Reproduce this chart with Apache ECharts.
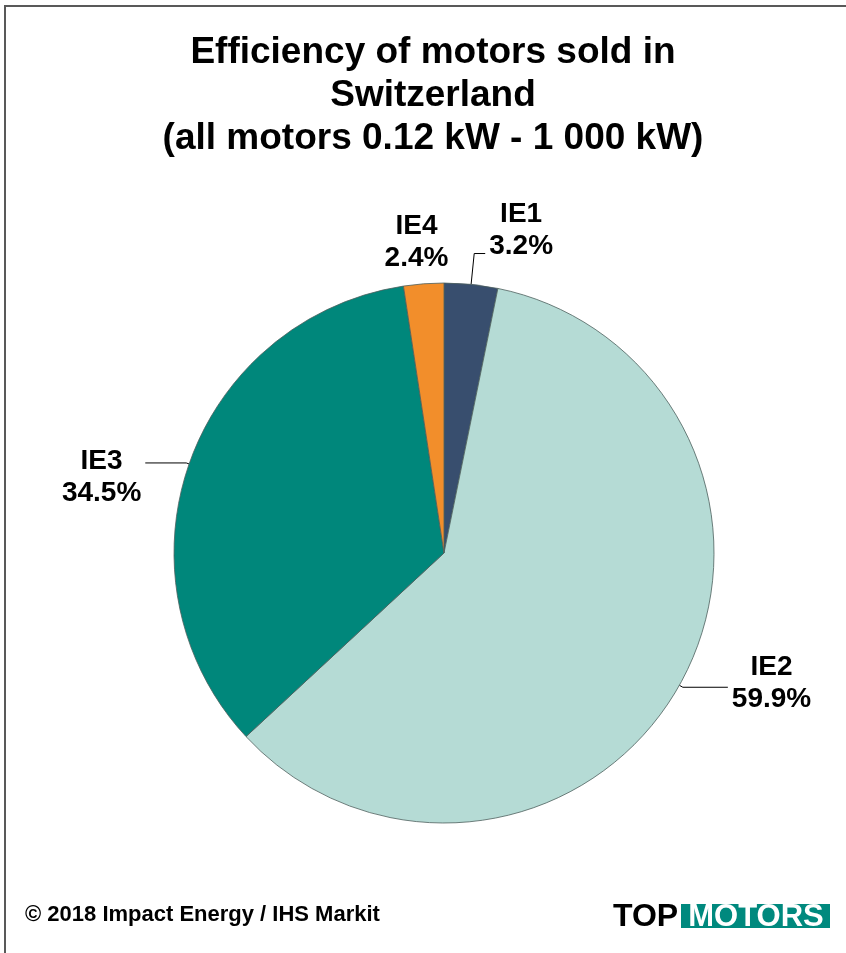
<!DOCTYPE html>
<html>
<head>
<meta charset="utf-8">
<script src="https://cdn.jsdelivr.net/npm/echarts@6/dist/echarts.min.js"></script>
<style>
  html, body { margin: 0; padding: 0; background: #fff; }
  #chart { width: 846px; height: 953px; }
</style>
</head>
<body>
<div id="chart"></div>
<script>
// motor efficiency classes and their share of sales (%)
const classes = ['IE1', 'IE2', 'IE3', 'IE4']
const shares = [3.2, 59.9, 34.5, 2.4]
const colors = ['#384e6e', '#b5dbd5', '#00877b', '#f28e2b']

// leader line tweaks, one per slice (Excel puts its labels by hand)
const lineLen = [31, 4, 3, 42]
const lineLen2 = [11, 45, 41, 0]
const lineShow = [true, true, true, false]
const labelPad = [[0, 0, 46, 0], [0, 0, 8, 0], [29, 0, 0, 0], [0, 0, 0, 0]]

const font = '"Liberation Sans", Arial, sans-serif'

const chart = echarts.init(document.getElementById('chart'))

const pieData = classes.map((name, i) => ({
  name,
  value: shares[i],
  itemStyle: { color: colors[i] },
  label: { padding: labelPad[i] },
  labelLine: { show: lineShow[i], length: lineLen[i], length2: lineLen2[i] }
}))

chart.setOption({
  animation: false,
  backgroundColor: '#fff',
  graphic: [
    // frame: only left and top edges show in the picture
    {
      type: 'polyline',
      shape: { points: [[5, 953], [5, 6], [846, 6]] },
      style: { stroke: '#595959', lineWidth: 2, fill: null }
    },
    {
      type: 'text',
      x: 433,
      y: 31,
      style: {
        text: 'Efficiency of motors sold in\nSwitzerland\n(all motors 0.12 kW - 1 000 kW)',
        font: 'bold 37px ' + font,
        lineHeight: 43,
        align: 'center',
        verticalAlign: 'top',
        fill: '#000'
      }
    },
    {
      type: 'text',
      x: 25,
      y: 915,
      style: {
        text: '© 2018 Impact Energy / IHS Markit',
        font: 'bold 22px ' + font,
        verticalAlign: 'middle',
        fill: '#000'
      }
    },
    // TOPMOTORS logo
    {
      type: 'text',
      x: 613,
      y: 917,
      style: { text: 'TOP', font: 'bold 32px ' + font, verticalAlign: 'middle', fill: '#000' }
    },
    {
      type: 'rect',
      shape: { x: 681, y: 904, width: 149, height: 24 },
      style: { fill: '#00897e' }
    },
    {
      type: 'text',
      x: 756,
      y: 917,
      style: { text: 'MOTORS', font: 'bold 31px ' + font, align: 'center', verticalAlign: 'middle', fill: '#fff' }
    }
  ],
  series: [
    {
      type: 'pie',
      center: [444, 553],
      radius: 270,
      startAngle: 90,
      clockwise: true,
      avoidLabelOverlap: false,
      emphasis: { disabled: true },
      itemStyle: { borderColor: '#4d605d', borderWidth: 0.8 },
      label: {
        show: true,
        position: 'outside',
        distanceToLabelLine: 4,
        formatter: p => '{t|' + p.name + '}\n{t|' + p.value + '%}',
        rich: {
          t: {
            fontFamily: font,
            fontSize: 28,
            fontWeight: 'bold',
            color: '#000',
            lineHeight: 32,
            align: 'center'
          }
        }
      },
      labelLine: {
        lineStyle: { color: '#000', width: 1 }
      },
      labelLayout: params => (params.dataIndex === 3 ? { align: 'center' } : {}),
      data: pieData
    }
  ]
})
</script>
</body>
</html>
